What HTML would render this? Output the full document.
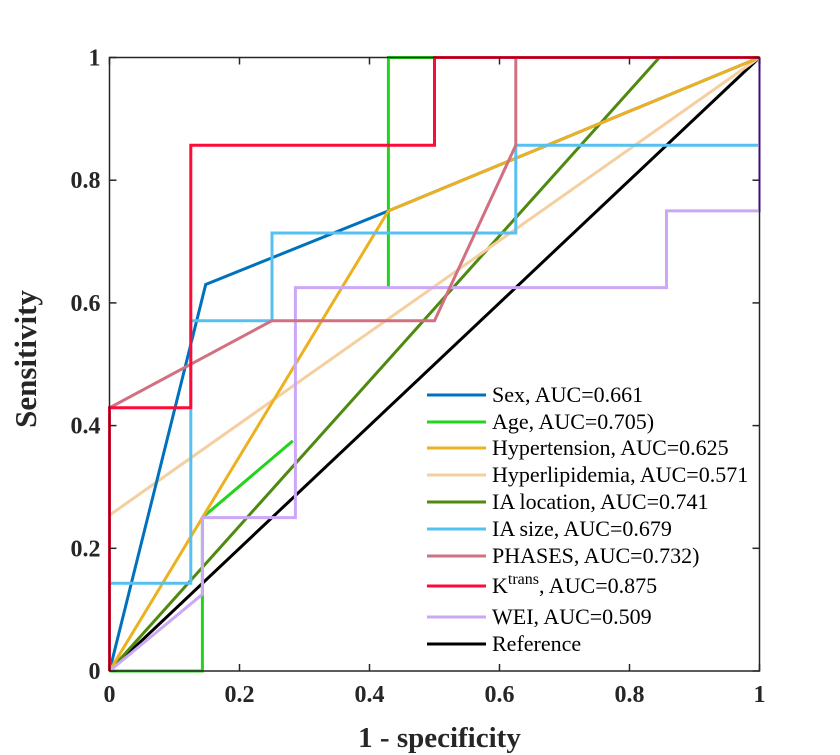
<!DOCTYPE html>
<html><head><meta charset="utf-8"><style>
body{margin:0;background:#fff}
svg{display:block;font-family:"Liberation Serif",serif}
</style></head><body>
<svg id="chart" width="840" height="755">
<rect width="840" height="755" fill="#fff"/>
<g id="plot"></g>
<g id="axes"></g>
<g id="legend"></g>
</svg>
<script>
const seriesNames=["Sex, AUC=0.661","Age, AUC=0.705)","Hypertension, AUC=0.625","Hyperlipidemia, AUC=0.571","IA location, AUC=0.741","IA size, AUC=0.679","PHASES, AUC=0.732)","Ktrans","WEI, AUC=0.509","Reference"];
const seriesColors=["#0072BD","#22D41A","#EDB120","#F6CFA0","#4F8A10","#56C1F0","#D07080","#FF0A38","#CBA8F5","#000000"];
const sexX=[0,0.148,0.429,1], sexY=[0,0.63,0.75,1];
const ageX=[0,0.143,0.143,0.282,null,0.429,0.429,0.5,1], ageY=[0,0,0.25,0.375,null,0.625,1,1,1];
const hypX=[0,0.143,0.429,1], hypY=[0,0.25,0.75,1];
const lipX=[0,1], lipY=[0.254,1];
const locX=[0,0.846], locY=[0,1];
const sizeX=[0,0.125,0.125,0.25,0.25,0.625,0.625,1,1], sizeY=[0.143,0.143,0.571,0.571,0.714,0.714,0.857,0.857,1];
const phX=[0,0.25,0.5,0.625,0.625,1], phY=[0.429,0.571,0.571,0.857,1,1];
const ktX=[0,0,0.125,0.125,0.5,0.5,1], ktY=[0,0.429,0.429,0.857,0.857,1,1];
const weiX=[0,0.143,0.143,0.286,0.286,0.857,0.857,1,1], weiY=[0,0.125,0.25,0.25,0.625,0.625,0.75,0.75,1];
const refX=[0,1], refY=[0,1];
const allX=[sexX,ageX,hypX,lipX,locX,sizeX,phX,ktX,weiX,refX];
const allY=[sexY,ageY,hypY,lipY,locY,sizeY,phY,ktY,weiY,refY];
const ticks=[0,0.2,0.4,0.6,0.8,1];
const tickLabels=["0","0.2","0.4","0.6","0.8","1"];
const X0=109.5,X1=759.5,Y0=671,Y1=57.5;
const sx=v=>X0+v*(X1-X0), sy=v=>Y0-v*(Y0-Y1);
const NS="http://www.w3.org/2000/svg";
function mk(tag,attrs,parent){const e=document.createElementNS(NS,tag);for(const k in attrs)e.setAttribute(k,attrs[k]);parent.appendChild(e);return e;}
const plot=document.getElementById('plot');
const drawOrder=[9,4,3,1,0,2,5,8,6,7];
drawOrder.forEach(i=>{
  const xs=allX[i],ys=allY[i];let segs=[[]];
  xs.forEach((x,j)=>{if(x===null){segs.push([]);}else segs[segs.length-1].push(sx(x).toFixed(1)+","+sy(ys[j]).toFixed(1));});
  segs.forEach(s=>{if(s.length<2)return;
    const p=mk('polyline',{points:s.join(' '),fill:'none',stroke:seriesColors[i],'stroke-width':3,'stroke-linejoin':'miter'},plot);
    
    
  });
});
const axes=document.getElementById('axes');
const frame=mk('rect',{x:X0,y:Y1,width:X1-X0,height:Y0-Y1,fill:'none',stroke:'#262626','stroke-width':1.5},axes);


ticks.forEach((t,i)=>{
  const x=sx(t),y=sy(t);
  mk('line',{x1:x,y1:Y0,x2:x,y2:Y0-7,stroke:'#262626','stroke-width':1.5},axes);
  mk('line',{x1:x,y1:Y1,x2:x,y2:Y1+7,stroke:'#262626','stroke-width':1.5},axes);
  mk('line',{x1:X0,y1:y,x2:X0+7,y2:y,stroke:'#262626','stroke-width':1.5},axes);
  mk('line',{x1:X1,y1:y,x2:X1-7,y2:y,stroke:'#262626','stroke-width':1.5},axes);
  const tx=mk('text',{x:x,y:Y0+31,'text-anchor':'middle','font-size':24,'font-weight':'bold',fill:'#262626'},axes);
  tx.textContent=tickLabels[i];
  
  
  const ty=mk('text',{x:X0-9,y:y+8,'text-anchor':'end','font-size':24,'font-weight':'bold',fill:'#262626'},axes);
  ty.textContent=tickLabels[i];
  
  
});
const xt=mk('text',{x:(X0+X1)/2+5,y:747,'text-anchor':'middle','font-size':29,'font-weight':'bold',fill:'#262626'},axes);
xt.textContent="1 - specificity";


const yt=mk('text',{x:0,y:0,'text-anchor':'middle','font-size':31,'font-weight':'bold',fill:'#262626',transform:'translate(36,359) rotate(-90)'},axes);
yt.textContent="Sensitivity";


const leg=document.getElementById('legend');
const rowsY=[395,422,448,475,502,529,556,586,617,644];
seriesNames.forEach((n,i)=>{
  const y=rowsY[i];
  const g=mk('g',{},leg);
  
  
  mk('line',{x1:427,y1:y,x2:486,y2:y,stroke:seriesColors[i],'stroke-width':3},g);
  const t=mk('text',{x:492,y:y+7,'font-size':22,fill:'#000'},g);
  if(i===7){t.innerHTML='K<tspan font-size="16" dy="-9">trans</tspan><tspan dy="9">, AUC=0.875</tspan>';}
  else t.textContent=n;
});
</script>
</body></html>
